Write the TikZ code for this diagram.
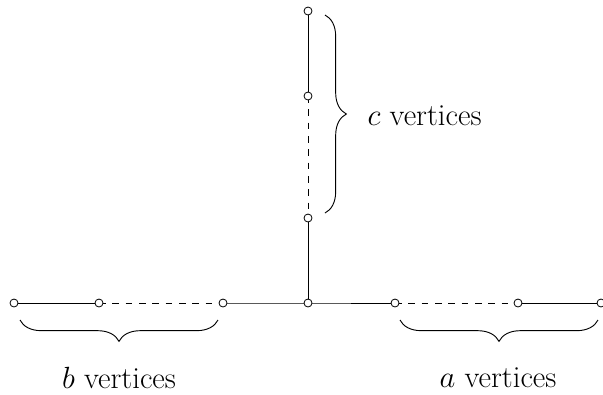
\RequirePackage{fix-cm}
\documentclass[tikz,border=0pt]{standalone}
\usetikzlibrary{decorations.pathreplacing}
\begin{document}
\begin{tikzpicture}[x=0.75pt,y=-0.75pt,
  vtx/.style={circle,draw,fill=white,inner sep=0pt,minimum size=6pt,line width=0.6pt},
  edge/.style={line width=0.7pt},
  dedge/.style={line width=0.7pt,dash pattern=on 5pt off 5pt},
  brc/.style={decorate,decoration={brace,amplitude=16pt},line width=0.7pt},
  lbl/.style={inner sep=1pt,font=\fontsize{23}{28}\selectfont}]
\useasboundingbox (0,0) rectangle (603,394);
\coordinate (v1) at (308,11);
\coordinate (v2) at (308,96);
\coordinate (v3) at (308,218);
\coordinate (c0) at (308,303);
\coordinate (b1) at (14,303);
\coordinate (b2) at (99,303);
\coordinate (b3) at (223,303);
\coordinate (a1) at (395,303);
\coordinate (a2) at (518,303);
\coordinate (a3) at (601,303);
\draw[edge] (v1) -- (v2);
\draw[dedge] (v2) -- (v3);
\draw[edge] (v3) -- (c0);
\draw[edge] (b1) -- (b2);
\draw[dedge] (b2) -- (b3);
\draw[edge] (b3) -- (c0) -- (a1);
\draw[dedge] (a1) -- (a2);
\draw[edge] (a2) -- (a3);
\foreach \p in {v1,v2,v3,c0,b1,b2,b3,a1,a2,a3} \node[vtx] (n\p) at (\p) {};
\coordinate (cb1) at (325,15);
\coordinate (cb2) at (325,213);
\draw[brc] (cb1) -- (cb2);
\coordinate (bb1) at (218,320);
\coordinate (bb2) at (20,320);
\draw[brc] (bb1) -- (bb2);
\coordinate (ab1) at (598,320);
\coordinate (ab2) at (400,320);
\draw[brc] (ab1) -- (ab2);
\node[lbl] (cl) at (424.5,116) {$c$ vertices};
\node[lbl] (bl) at (119,378) {$b$ vertices};
\node[lbl] (al) at (498,378) {$a$ vertices};
\end{tikzpicture}
\end{document}
